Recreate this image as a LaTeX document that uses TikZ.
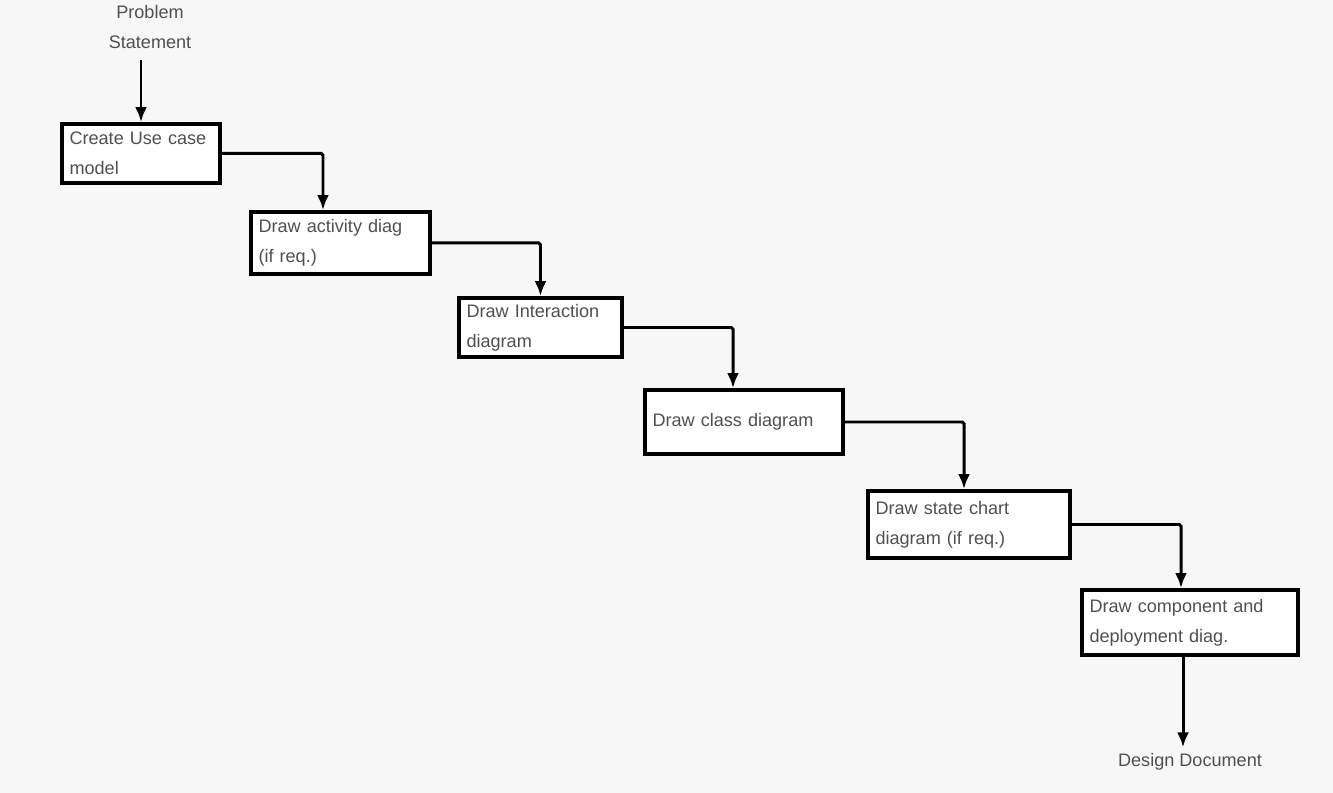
\documentclass[tikz,border=0pt]{standalone}
\usepackage{fontspec}
\setmainfont{Liberation Sans}
\usepackage{tikz}
\usetikzlibrary{positioning, arrows.meta}

\definecolor{pagebg}{HTML}{F7F7F7}
\definecolor{boxtext}{HTML}{505050}

\tikzset{
  stepbox/.style={draw, line width=2.2pt, fill=white, align=left, inner xsep=0.15cm,
    text=boxtext, font=\fontsize{10.3}{17}\selectfont},
  flowtext/.style={align=center, text=boxtext, font=\fontsize{10.3}{17}\selectfont},
  flow/.style={-{Latex[length=0.3cm, width=0.24cm]}, line width=1.7pt, rounded corners=1pt}
}

\begin{document}
\begin{tikzpicture}[node distance=2cm, on grid]
    \fill[pagebg] (0,0) rectangle (26.66,-15.86);
    \useasboundingbox (0,0) rectangle (26.66,-15.86);

    \node[stepbox, text width=2.86cm, minimum height=1.18cm] (s1) at (2.82,-3.07) {Create Use case\\model};
    \node[flowtext] (ps) [above right=2.53cm and 0.18cm of s1] {Problem\\Statement};
    \node[stepbox, text width=3.28cm, minimum height=1.24cm] (s2) [below right=1.79cm and 3.99cm of s1] {Draw activity diag\\(if req.)};
    \node[stepbox, text width=2.96cm, minimum height=1.18cm] (s3) [below right=1.69cm and 4.0cm of s2] {Draw Interaction\\diagram};
    \node[stepbox, text width=3.66cm, minimum height=1.28cm] (s4) [below right=1.89cm and 4.07cm of s3] {Draw class diagram};
    \node[stepbox, text width=3.74cm, minimum height=1.34cm] (s5) [below right=2.05cm and 4.5cm of s4] {Draw state chart\\diagram (if req.)};
    \node[stepbox, text width=4.02cm, minimum height=1.30cm] (s6) [below right=1.96cm and 4.42cm of s5] {Draw component and\\deployment diag.};
    \node[flowtext] (dd) [below=2.79cm of s6] {Design Document};

    % steps
    \draw[flow] ([yshift=-0.1cm]ps.south -| s1) -- (s1);
    \draw[flow] (s1.east) -| ([xshift=-0.35cm]s2.north);
    \draw[flow] (s2.east) -| (s3.north);
    \draw[flow] (s3.east) -| ([xshift=-0.22cm]s4.north);
    \draw[flow] (s4.east) -| ([xshift=-0.1cm]s5.north);
    \draw[flow] (s5.east) -| ([xshift=-0.18cm]s6.north);
    \draw[flow] ([xshift=-0.14cm]s6.south) -- ([xshift=-0.14cm]dd.north);
\end{tikzpicture}
\end{document}
